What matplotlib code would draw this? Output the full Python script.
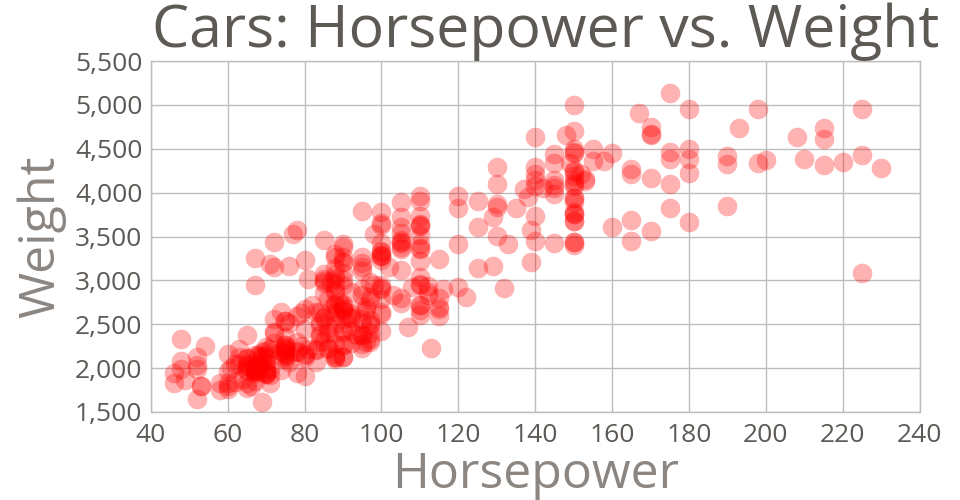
import matplotlib
matplotlib.use('Agg')
import matplotlib.pyplot as plt
from matplotlib.ticker import FuncFormatter

# auto-mpg cars: horsepower / weight
horsepower = [
    130, 165, 150, 150, 140, 198, 220, 215, 225, 190, 170, 160, 150, 225, 95, 95, 97, 85, 88, 46,
    87, 90, 95, 113, 90, 215, 200, 210, 193, 88, 90, 95, 100, 105, 100, 88, 100, 165, 175, 153,
    150, 180, 170, 175, 110, 72, 100, 88, 86, 90, 70, 76, 65, 69, 60, 70, 95, 80, 54, 90,
    86, 165, 175, 150, 153, 150, 208, 155, 160, 190, 97, 150, 130, 140, 150, 112, 76, 87, 69, 86,
    92, 97, 80, 88, 175, 150, 145, 137, 150, 198, 150, 158, 150, 215, 225, 175, 105, 100, 100, 88,
    95, 46, 150, 167, 170, 180, 100, 88, 72, 94, 90, 85, 107, 90, 145, 230, 49, 75, 91, 112,
    150, 110, 122, 180, 95, 100, 100, 67, 80, 65, 75, 100, 110, 105, 140, 150, 150, 140, 150, 83,
    67, 78, 52, 61, 75, 75, 75, 97, 93, 67, 95, 105, 72, 72, 170, 145, 150, 148, 110, 105,
    110, 95, 110, 110, 129, 75, 83, 100, 78, 96, 71, 97, 97, 70, 90, 95, 88, 98, 115, 53,
    86, 81, 92, 79, 83, 140, 150, 120, 152, 100, 105, 81, 90, 52, 60, 70, 53, 100, 78, 110,
    95, 71, 70, 75, 72, 102, 150, 88, 108, 120, 180, 145, 130, 150, 68, 80, 58, 96, 70, 145,
    110, 145, 130, 110, 105, 100, 98, 180, 170, 190, 149, 78, 88, 75, 89, 63, 83, 67, 78, 97,
    110, 110, 48, 66, 52, 70, 60, 110, 140, 139, 105, 95, 85, 88, 100, 90, 105, 85, 110, 120,
    145, 165, 139, 140, 68, 95, 97, 75, 95, 105, 85, 97, 103, 125, 115, 133, 71, 68, 115, 85,
    88, 90, 110, 130, 129, 138, 135, 155, 142, 125, 150, 71, 65, 80, 80, 77, 125, 71, 90, 70,
    70, 65, 69, 90, 115, 115, 90, 76, 60, 70, 65, 90, 88, 90, 90, 78, 90, 75, 92, 75,
    65, 105, 65, 48, 48, 67, 67, 67, 67, 62, 132, 100, 88, 72, 84, 84, 92, 110, 84, 58,
    64, 60, 67, 65, 62, 68, 63, 65, 65, 74, 75, 75, 100, 74, 80, 76, 116, 120, 110, 105,
    88, 85, 88, 88, 88, 85, 84, 90, 92, 74, 68, 68, 63, 70, 88, 75, 70, 67, 67, 67,
    110, 85, 92, 112, 96, 84, 90, 86, 52, 84, 79, 82,
]
weight = [
    3504, 3693, 3436, 3433, 3449, 4341, 4354, 4312, 4425, 3850, 3563, 3609, 3761, 3086, 2372, 2833, 2774, 2587, 2130, 1835,
    2672, 2430, 2375, 2234, 2648, 4615, 4376, 4382, 4732, 2130, 2264, 2228, 2634, 3439, 3329, 3302, 3288, 4209, 4464, 4154,
    4096, 4955, 4746, 5140, 2962, 2408, 3282, 3139, 2220, 2123, 2074, 2065, 1773, 1613, 1834, 1955, 2278, 2126, 2254, 2408,
    2226, 4274, 4385, 4135, 4129, 3672, 4633, 4502, 4456, 4422, 2330, 3892, 4098, 4294, 4077, 2933, 2511, 2979, 2189, 2395,
    2288, 2506, 2164, 2100, 4100, 3672, 3988, 4042, 3777, 4952, 4464, 4363, 4237, 4735, 4951, 3821, 3121, 3278, 2945, 3021,
    2904, 1950, 4997, 4906, 4654, 4499, 2789, 2279, 2401, 2379, 2124, 2310, 2472, 2265, 4082, 4278, 1867, 2158, 2582, 2868,
    3399, 2660, 2807, 3664, 3102, 2901, 3336, 1950, 2451, 1836, 2542, 3781, 3632, 3613, 4141, 4699, 4457, 4638, 4257, 2219,
    1963, 2300, 1649, 2003, 2125, 2108, 2246, 2489, 2391, 2000, 3264, 3459, 3432, 3158, 4668, 4440, 4498, 4657, 3907, 3897,
    3730, 3785, 3039, 3221, 3169, 2171, 2639, 2914, 2592, 2702, 2223, 2545, 2984, 1937, 3211, 2694, 2957, 2945, 2671, 1795,
    2464, 2220, 2572, 2255, 2202, 4215, 4190, 3962, 4215, 3233, 3353, 3012, 3085, 2035, 2164, 1937, 1795, 3651, 3574, 3645,
    3193, 1825, 1990, 2155, 2565, 3150, 3940, 3270, 2930, 3820, 4380, 4055, 3870, 3755, 2045, 2155, 1825, 2300, 1945, 4335,
    3960, 4140, 4295, 3520, 3425, 3630, 3525, 4220, 4165, 4325, 4335, 1940, 2740, 2265, 2755, 2051, 2075, 1985, 2190, 2815,
    2600, 2720, 1985, 1800, 1985, 2070, 1800, 3365, 3735, 3570, 3535, 3155, 2965, 2720, 3430, 3210, 3380, 3070, 3620, 3410,
    3425, 3445, 3205, 4080, 2155, 2560, 2300, 2230, 2515, 2745, 2855, 2405, 2830, 3140, 2795, 3410, 1990, 2135, 3245, 2990,
    2890, 3265, 3360, 3840, 3725, 3955, 3830, 4360, 4054, 3605, 3940, 1925, 1975, 1915, 2670, 3530, 3900, 3190, 3420, 2200,
    2150, 2020, 2130, 2670, 2595, 2700, 2556, 2144, 1968, 2120, 2019, 2678, 2870, 3003, 3381, 2188, 2711, 2542, 2434, 2265,
    2110, 2800, 2110, 2085, 2335, 2950, 3250, 1850, 2145, 1845, 2910, 2420, 2500, 2290, 2490, 2635, 2620, 2725, 2385, 1755,
    1875, 1760, 2065, 1975, 2050, 1985, 2215, 2045, 2380, 2190, 2210, 2350, 2615, 2635, 3230, 3160, 2900, 2930, 3415, 3725,
    3060, 3465, 2605, 2640, 2395, 2575, 2525, 2735, 2865, 1980, 2025, 1970, 2125, 2125, 2160, 2205, 2245, 1965, 1965, 1995,
    2945, 3015, 2585, 2835, 2665, 2370, 2950, 2790, 2130, 2295, 2625, 2720,
]

x_ticks = list(range(40, 241, 20))
y_ticks = list(range(1500, 5501, 500))

dark = '#5d5955'
light = '#8b8681'
grid_c = '#bdbdbd'

plt.rcParams['font.family'] = ['Open Sans', 'DejaVu Sans']

fig = plt.figure(figsize=(9.6, 5.0), dpi=100)
ax = fig.add_axes([0.157, 0.176, 0.801, 0.702])

ax.scatter(horsepower, weight, s=200, color='red', alpha=0.3, linewidths=0, zorder=3)

ax.set_xlim(40, 240)
ax.set_ylim(1500, 5500)
ax.set_xticks(x_ticks)
ax.set_yticks(y_ticks)
ax.yaxis.set_major_formatter(FuncFormatter(lambda v, p: '{:,}'.format(int(v))))
ax.grid(True, color=grid_c, linewidth=1, zorder=0)
ax.set_axisbelow(True)
for sp in ax.spines.values():
    sp.set_color(grid_c)
    sp.set_linewidth(1)
ax.tick_params(length=0, labelsize=19, labelcolor=dark)
ax.tick_params(axis='x', pad=8)
ax.tick_params(axis='y', pad=6)

ax.set_xlabel('Horsepower', fontsize=36, color=light, labelpad=2)
ax.set_ylabel('Weight', fontsize=36, color=light, labelpad=6)
ax.set_title('Cars: Horsepower vs. Weight', fontsize=42.5, color=dark, pad=0, x=0.513)

fig.savefig('out.png', dpi=100)
